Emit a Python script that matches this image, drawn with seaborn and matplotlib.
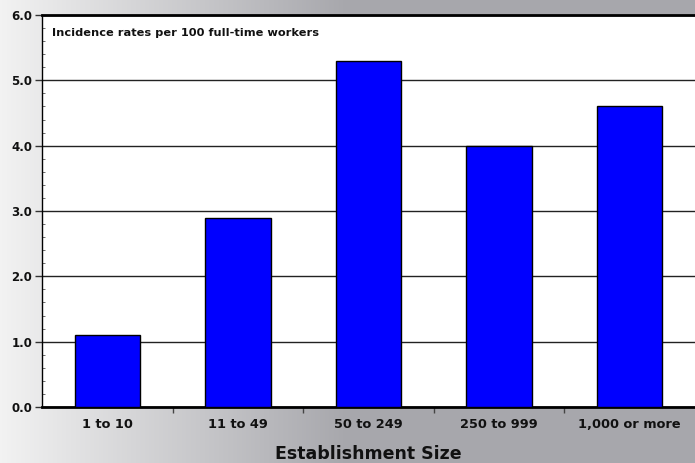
import numpy as np
import pandas as pd
import matplotlib
matplotlib.use("Agg")
import matplotlib.pyplot as plt
import seaborn as sns
from matplotlib.ticker import MultipleLocator, FixedLocator

sizes = ["1 to 10", "11 to 49", "50 to 249", "250 to 999", "1,000 or more"]
rates = [1.1, 2.9, 5.3, 4.0, 4.6]
y_ticks = [0, 1, 2, 3, 4, 5, 6]

df = pd.DataFrame({"size": sizes, "rate": rates})

sns.set_style("white")
plt.rcParams["font.family"] = ["DejaVu Sans"]
plt.rcParams["font.weight"] = "bold"
plt.rcParams["text.color"] = "#111111"
plt.rcParams["axes.labelcolor"] = "#111111"
plt.rcParams["xtick.color"] = "#111111"
plt.rcParams["ytick.color"] = "#111111"

fig = plt.figure(figsize=(6.95, 4.63), dpi=100)

# grey gradient behind everything
bg = fig.add_axes([0, 0, 1, 1], zorder=-10)
xs = np.linspace(0, 1, 400)
light = np.array([0.95, 0.95, 0.95])
dark = np.array([0.655, 0.655, 0.675])
t = np.clip(xs / 0.5, 0, 1)[:, None]
grad = (light * (1 - t) + dark * t)[None, :, :]
bg.imshow(grad, aspect="auto", extent=[0, 1, 0, 1])
bg.axis("off")

ax = fig.add_axes([42 / 695, 1 - 407 / 463, 653 / 695, 392 / 463])
ax.set_facecolor("white")

sns.barplot(data=df, x="size", y="rate", color="#0000ff", saturation=1,
            edgecolor="black", linewidth=1, width=0.5, ax=ax, zorder=3)

ax.set_xlim(-0.5, 4.5)
ax.set_ylim(0, 6)
ax.set_yticks(y_ticks)
ax.set_yticklabels([f"{v:.1f}" for v in y_ticks], fontsize=8.5, fontweight="bold")
ax.yaxis.set_minor_locator(MultipleLocator(0.2))
ax.tick_params(axis="y", which="major", left=True, direction="out", length=5, width=1, color="#333333", pad=2)
ax.tick_params(axis="y", which="minor", left=True, direction="in", length=2, width=0.6, color="#555555")
ax.grid(axis="y", which="major", color="#222222", linewidth=1, zorder=0)
ax.set_axisbelow(True)

ax.set_xticks(range(len(sizes)))
ax.set_xticklabels(sizes, fontsize=9.3, fontweight="bold")
ax.xaxis.set_minor_locator(FixedLocator([0.5, 1.5, 2.5, 3.5]))
ax.tick_params(axis="x", which="major", bottom=False, length=0, pad=8)
ax.tick_params(axis="x", which="minor", bottom=True, direction="out", length=4, width=1, color="#444444")

ax.set_xlabel("Establishment Size", fontsize=12.5, fontweight="bold", labelpad=10)
ax.set_ylabel("")

for side in ["top", "bottom"]:
    ax.spines[side].set_linewidth(2)
    ax.spines[side].set_color("black")
ax.spines["left"].set_linewidth(1)
ax.spines["left"].set_color("black")
ax.spines["right"].set_visible(False)

ax.text(0.015, 0.955, "Incidence rates per 100 full-time workers", transform=ax.transAxes,
        fontsize=8.2, fontweight="bold", va="center", ha="left")

fig.savefig("out.png", dpi=100)
